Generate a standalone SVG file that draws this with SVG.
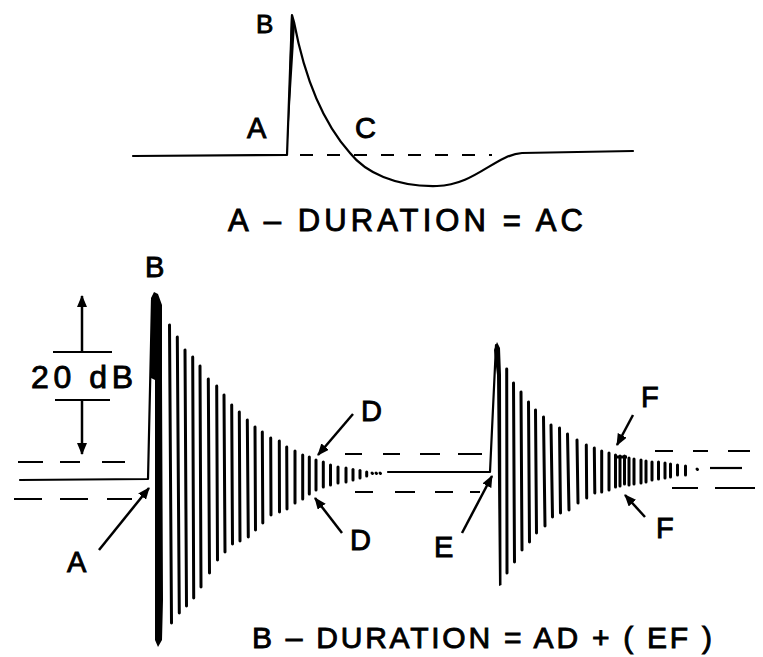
<svg xmlns="http://www.w3.org/2000/svg" width="763" height="657" viewBox="0 0 763 657">
<defs>
<style>
text{font-family:"Liberation Sans",Arial,sans-serif;fill:#000;stroke:#000;stroke-width:0.9}
.w{fill:none;stroke:#000;stroke-width:2.2;stroke-linecap:round;stroke-linejoin:round}
.d{fill:none;stroke:#000;stroke-width:2.2}
.b line{stroke:#000;stroke-width:3;stroke-linecap:round}
.ar{fill:none;stroke:#000;stroke-width:2.5}
</style>
<marker id="ah" viewBox="0 0 12 10" refX="11" refY="5" markerWidth="12" markerHeight="10" markerUnits="userSpaceOnUse" orient="auto">
<path d="M0,0 L12,5 L0,10 Z" fill="#000"/>
</marker>
</defs>
<rect width="763" height="657" fill="#fff"/>

<g id="top-waveform">
<path class="w" d="M133,156 L287,155 L292,15 L294,22 C305,80 325,125 350,153 C365,172 395,187 437,186 C475,185 495,155 522,153 L633,151"/>
<path d="M287,155 L291,14 L295,24 Z" fill="#000"/>
<line class="d" x1="300" y1="155" x2="492" y2="155" stroke-dasharray="13,14"/>
<text x="256" y="33" font-size="26">B</text>
<text x="247" y="138" font-size="29">A</text>
<text x="355" y="138" font-size="29">C</text>
<text x="228" y="231" font-size="31" textLength="355" lengthAdjust="spacing">A – DURATION = AC</text>
</g>

<g id="scale-20dB">
<line class="ar" x1="82" y1="352" x2="82" y2="296" marker-end="url(#ah)"/>
<line x1="53" y1="352" x2="112" y2="352" stroke="#000" stroke-width="2"/>
<text x="31" y="388" font-size="32" textLength="102" lengthAdjust="spacing">20 dB</text>
<line x1="55" y1="400" x2="110" y2="400" stroke="#000" stroke-width="2"/>
<line class="ar" x1="82" y1="400" x2="82" y2="454" marker-end="url(#ah)"/>
</g>

<g id="burst-1">
<path d="M18,462 H43 M60,462 H80 M102,462 H125" class="d"/>
<path class="w" d="M20,480 L148,479 L152,300"/>
<path d="M14,499 H42 M60,499 H88 M107,499 H132" class="d"/>
<path d="M151,298 L154,292 L158,294 L162,305 L162,380 L163,600 L162,640 L158,647 L155,640 L155,380 L151,378 Z" fill="#000"/>
<g class="b">
<line x1="169.5" y1="325" x2="171.5" y2="623"/>
<line x1="177.3" y1="337" x2="179.3" y2="613"/>
<line x1="185" y1="350" x2="186.5" y2="606"/>
<line x1="192.7" y1="357" x2="193.7" y2="598"/>
<line x1="200" y1="366" x2="201" y2="587"/>
<line x1="208.3" y1="379" x2="209.5" y2="573"/>
<line x1="216.7" y1="386" x2="217.5" y2="560"/>
<line x1="224" y1="395" x2="225" y2="552"/>
<line x1="231.7" y1="405" x2="232.5" y2="544"/>
<line x1="239.3" y1="412" x2="240" y2="541"/>
<line x1="247.3" y1="420" x2="248.3" y2="537"/>
<line x1="255" y1="427" x2="255.5" y2="530"/>
<line x1="262.3" y1="432" x2="262.8" y2="523"/>
<line x1="270.7" y1="438" x2="271" y2="515"/>
<line x1="279.3" y1="441" x2="279.5" y2="512"/>
<line x1="286.7" y1="447" x2="287" y2="509"/>
<line x1="295" y1="451" x2="295" y2="503"/>
<line x1="302.7" y1="455" x2="302.7" y2="499"/>
<line x1="309.3" y1="457" x2="309.3" y2="494"/>
<line x1="316" y1="460" x2="316" y2="490"/>
<line x1="323.3" y1="462" x2="323.3" y2="487"/>
<line x1="330.5" y1="465" x2="330.5" y2="485"/>
<line x1="338" y1="467" x2="338" y2="483"/>
<line x1="346" y1="468" x2="346" y2="482"/>
<line x1="353" y1="469.5" x2="353" y2="480"/>
<line x1="360" y1="470.5" x2="360" y2="478"/>
<line x1="366.7" y1="472" x2="366.7" y2="476"/>
<line x1="372" y1="473" x2="372.5" y2="473.5"/>
<line x1="376" y1="473" x2="376.5" y2="473.5"/>
<line x1="380" y1="473" x2="380.5" y2="473.5"/>
</g>
</g>

<g id="burst-2">
<path d="M345,454 H362 M383,454 H400 M420,454 H440 M458,454 H482" class="d"/>
<path class="w" d="M388,472 L490,472 L496,345"/>
<path d="M355,492 H373 M395,492 H415 M435,492 H453 M470,492 H480" class="d"/>
<path d="M494,350 L497,342 L500,348 L501,375 L501.5,585 L499,586 L497,375 Z" fill="#000"/>
<g class="b">
<line x1="506.7" y1="369" x2="507" y2="573"/>
<line x1="513.5" y1="383" x2="514.5" y2="562"/>
<line x1="521" y1="392" x2="522" y2="550"/>
<line x1="528.5" y1="402" x2="529.5" y2="542"/>
<line x1="535.5" y1="410" x2="536.5" y2="533"/>
<line x1="543.5" y1="417" x2="545" y2="526"/>
<line x1="551" y1="425" x2="552.5" y2="517"/>
<line x1="559.5" y1="428" x2="560.5" y2="513"/>
<line x1="567.5" y1="434" x2="569" y2="510"/>
<line x1="577" y1="440" x2="578" y2="503"/>
<line x1="586.3" y1="445" x2="586.7" y2="498"/>
<line x1="594.3" y1="448" x2="594.8" y2="493"/>
<line x1="601.7" y1="451" x2="601.7" y2="492"/>
<line x1="609" y1="453" x2="609" y2="490"/>
<line x1="615.5" y1="455" x2="615.5" y2="487"/>
<line x1="620" y1="456" x2="620" y2="486"/>
<line x1="624.5" y1="456" x2="624.5" y2="484"/>
<line x1="629" y1="458" x2="629" y2="485"/>
<line x1="634" y1="459" x2="634" y2="484"/>
<line x1="641" y1="460" x2="641" y2="483"/>
<line x1="646" y1="461" x2="646" y2="482"/>
<line x1="652" y1="462" x2="652" y2="480"/>
<line x1="658.5" y1="462" x2="658.5" y2="479"/>
<line x1="665" y1="463" x2="665" y2="478"/>
<line x1="670.5" y1="464" x2="670.5" y2="477"/>
<line x1="677.5" y1="465" x2="677.5" y2="475"/>
<line x1="685.5" y1="466" x2="685.5" y2="475"/>
<line x1="697" y1="469" x2="697.5" y2="469.5"/>
</g>
<line x1="617" y1="457" x2="627" y2="457" stroke="#000" stroke-width="3"/>
<path d="M655,451 H673 M693,451 H708 M728,451 H750" class="d"/>
<path d="M710,468 H742" class="d"/>
<path d="M672,488 H698 M715,488 H755" class="d"/>
</g>

<g id="labels-bottom">
<text x="145" y="277" font-size="29">B</text>
<text x="67" y="572" font-size="29">A</text>
<text x="361" y="421" font-size="29">D</text>
<text x="350" y="550" font-size="29">D</text>
<text x="434" y="557" font-size="29">E</text>
<text x="641" y="407" font-size="29">F</text>
<text x="656" y="538" font-size="29">F</text>
<text x="252" y="648" font-size="30" textLength="460" lengthAdjust="spacing">B – DURATION = AD + ( EF )</text>
</g>

<g id="connectors">
<line class="ar" x1="99" y1="550" x2="149" y2="488" marker-end="url(#ah)"/>
<line class="ar" x1="353" y1="414" x2="318" y2="455" marker-end="url(#ah)"/>
<line class="ar" x1="342" y1="533" x2="315" y2="498" marker-end="url(#ah)"/>
<line class="ar" x1="462" y1="533" x2="492" y2="476" marker-end="url(#ah)"/>
<line class="ar" x1="633" y1="415" x2="617" y2="445" marker-end="url(#ah)"/>
<line class="ar" x1="645" y1="517" x2="625" y2="495" marker-end="url(#ah)"/>
</g>
</svg>
